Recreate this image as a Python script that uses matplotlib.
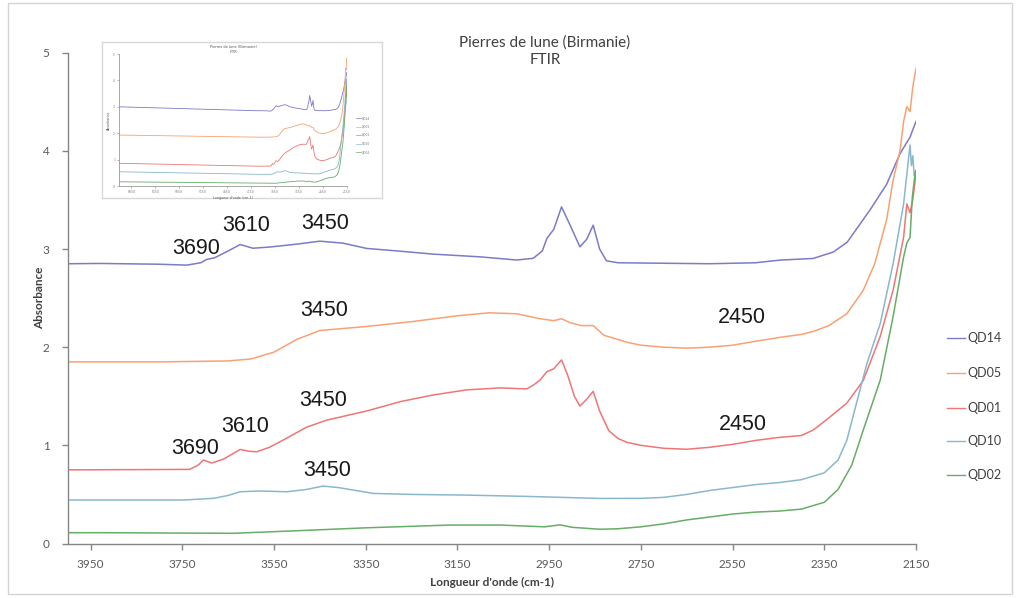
import matplotlib
matplotlib.use("Agg")
import matplotlib.pyplot as plt
from matplotlib.patches import Rectangle

W, H = 1017, 598

# ---- spectra (wavenumber in cm-1, absorbance) ----
qd14_wn = [4000, 3930, 3800, 3740, 3710, 3697, 3680, 3650, 3624, 3596, 3560, 3500, 3450, 3400,
           3348, 3280, 3203, 3100, 3021, 2985, 2965, 2955, 2940, 2923, 2905, 2883, 2868, 2854,
           2840, 2825, 2800, 2700, 2600, 2500, 2447, 2374, 2330, 2300, 2250, 2214, 2185, 2163, 2150]
qd14_abs = [2.85, 2.853, 2.845, 2.836, 2.86, 2.894, 2.91, 2.98, 3.046, 3.008, 3.02, 3.05, 3.08, 3.06,
            3.006, 2.98, 2.948, 2.92, 2.888, 2.905, 2.98, 3.108, 3.2, 3.429, 3.25, 3.022, 3.1, 3.243,
            3.0, 2.88, 2.86, 2.855, 2.85, 2.86, 2.887, 2.904, 2.97, 3.07, 3.40, 3.66, 3.97, 4.14, 4.30]

qd05_wn = [4000, 3800, 3650, 3600, 3550, 3500, 3450, 3400, 3350, 3250, 3150, 3080, 3020, 2970,
           2940, 2923, 2905, 2880, 2854, 2830, 2780, 2750, 2700, 2650, 2600, 2550, 2500, 2447,
           2400, 2374, 2340, 2301, 2265, 2240, 2214, 2200, 2185, 2177, 2170, 2163, 2157, 2150]
qd05_abs = [1.85, 1.85, 1.86, 1.88, 1.95, 2.08, 2.17, 2.19, 2.21, 2.26, 2.32, 2.35, 2.34, 2.29,
            2.27, 2.29, 2.25, 2.22, 2.22, 2.12, 2.05, 2.02, 2.0, 1.99, 2.0, 2.02, 2.06, 2.10,
            2.13, 2.16, 2.22, 2.34, 2.58, 2.85, 3.3, 3.7, 4.0, 4.3, 4.45, 4.40, 4.65, 4.84]

qd01_wn = [4000, 3734, 3715, 3704, 3686, 3660, 3639, 3624, 3605, 3588, 3560, 3530, 3479, 3435,
           3348, 3275, 3203, 3130, 3057, 2999, 2984, 2970, 2955, 2940, 2923, 2910, 2895, 2883,
           2868, 2854, 2840, 2820, 2800, 2780, 2750, 2700, 2650, 2600, 2550, 2500, 2450, 2400,
           2374, 2340, 2301, 2265, 2228, 2200, 2177, 2170, 2163, 2157, 2150]
qd01_abs = [0.75, 0.755, 0.80, 0.85, 0.82, 0.86, 0.917, 0.958, 0.94, 0.934, 0.98, 1.054, 1.185, 1.257,
            1.35, 1.445, 1.513, 1.565, 1.585, 1.575, 1.615, 1.665, 1.75, 1.78, 1.87, 1.72, 1.50, 1.40,
            1.47, 1.55, 1.35, 1.15, 1.07, 1.03, 1.00, 0.97, 0.96, 0.98, 1.01, 1.05, 1.08, 1.10,
            1.156, 1.28, 1.43, 1.66, 2.11, 2.58, 3.12, 3.46, 3.37, 3.5, 3.77]

qd10_wn = [4000, 3930, 3748, 3682, 3650, 3624, 3580, 3522, 3480, 3443, 3410, 3378, 3333, 3250,
           3130, 3000, 2839, 2750, 2700, 2650, 2600, 2550, 2500, 2450, 2400, 2350, 2320, 2301,
           2257, 2228, 2200, 2177, 2163, 2160, 2157, 2154, 2150]
qd10_abs = [0.443, 0.443, 0.443, 0.46, 0.49, 0.527, 0.535, 0.527, 0.55, 0.585, 0.57, 0.545, 0.51, 0.50,
            0.493, 0.48, 0.459, 0.46, 0.47, 0.50, 0.54, 0.57, 0.60, 0.62, 0.65, 0.72, 0.85, 1.05,
            1.835, 2.24, 2.85, 3.46, 4.06, 3.85, 3.95, 3.75, 3.8]

qd02_wn = [4000, 3930, 3639, 3500, 3348, 3166, 3057, 2960, 2926, 2900, 2839, 2800, 2750, 2700,
           2650, 2600, 2550, 2500, 2450, 2400, 2350, 2320, 2290, 2265, 2228, 2200, 2177, 2170,
           2163, 2158, 2152, 2150]
qd02_abs = [0.11, 0.11, 0.104, 0.13, 0.16, 0.188, 0.188, 0.17, 0.19, 0.165, 0.145, 0.15, 0.17, 0.20,
            0.24, 0.27, 0.30, 0.32, 0.33, 0.35, 0.42, 0.55, 0.80, 1.156, 1.665, 2.31, 2.92, 3.06,
            3.12, 3.53, 3.77, 3.8]

series_names = ["QD14", "QD05", "QD01", "QD10", "QD02"]
series_colors = ["#7b7bc6", "#f7a274", "#ee7676", "#88b8cc", "#66ad66"]

# band labels: (text, wavenumber, absorbance)
band_labels = [
    ("3690", 3719, 3.006), ("3610", 3610, 3.243), ("3450", 3439, 3.26),
    ("3450", 3440, 2.378), ("2450", 2530, 2.30),
    ("3690", 3722, 0.963), ("3610", 3613, 1.19), ("3450", 3443, 1.454), ("2450", 2528, 1.21),
    ("3450", 3435, 0.741),
]

# far-range levels for the overview panel (6900 -> 4000 cm-1)
far_wn = [6900, 4000]
far_levels = {"QD14": [3.0, 2.85], "QD05": [1.93, 1.85], "QD01": [0.86, 0.75],
              "QD10": [0.54, 0.443], "QD02": [0.16, 0.11]}

x_ticks = list(range(2150, 4000, 200))
y_ticks = [0, 1, 2, 3, 4, 5]

data = [(qd14_wn, qd14_abs), (qd05_wn, qd05_abs), (qd01_wn, qd01_abs),
        (qd10_wn, qd10_abs), (qd02_wn, qd02_abs)]


def fx(px):
    return px / W


def fy(py):
    return 1 - py / H


fig = plt.figure(figsize=(W / 100, H / 100), dpi=100)
fig.patch.set_facecolor("white")

# chart frame
fig.add_artist(Rectangle((fx(8), fy(594)), fx(1004), 591 / H, transform=fig.transFigure,
                         fill=False, edgecolor="#d4d4d4", linewidth=1.0))

tick_font = "Lato"
gray = "#595959"
axis_gray = "#868686"

ax = fig.add_axes([fx(67.7), fy(543.5), fx(916 - 67.7), (543.5 - 52.7) / H])
for (wn, ab), name, col in zip(data, series_names, series_colors):
    ax.plot(wn, ab, color=col, linewidth=1.1, label=name)

ax.set_xlim(4000, 2150)
ax.set_ylim(0, 5)
ax.set_xticks(x_ticks)
ax.set_yticks(y_ticks)
for s in ["top", "right"]:
    ax.spines[s].set_visible(False)
for s in ["left", "bottom"]:
    ax.spines[s].set_color(axis_gray)
    ax.spines[s].set_linewidth(1.0)
ax.tick_params(axis="both", direction="out", length=4, width=1, color=axis_gray,
               labelcolor=gray, labelsize=8.5)
ax.tick_params(axis="x", pad=7)
ax.tick_params(axis="y", pad=9)
for lab in ax.get_xticklabels() + ax.get_yticklabels():
    lab.set_fontfamily(tick_font)

for txt, wn, ab in band_labels:
    ax.text(wn, ab, txt, ha="center", va="center", fontsize=15.5,
            family="Liberation Sans", color="#1a1a1a")

# titles
fig.text(fx(545), fy(43), "Pierres de lune (Birmanie)", ha="center", va="center",
         fontsize=11, family=tick_font, color="#404040")
fig.text(fx(545), fy(60), "FTIR", ha="center", va="center",
         fontsize=11, family=tick_font, color="#404040")
fig.text(fx(492), fy(582), "Longueur d'onde (cm-1)", ha="center", va="center",
         fontsize=8.5, family=tick_font, fontweight="bold", color="#404040")
fig.text(fx(40), fy(298), "Absorbance", ha="center", va="center", rotation=90,
         fontsize=8.5, family=tick_font, fontweight="bold", color="#404040")

# legend
leg_y = [338, 373, 408, 441, 475]
for name, col, py in zip(series_names, series_colors, leg_y):
    fig.add_artist(plt.Line2D([fx(947), fx(965)], [fy(py), fy(py)], color=col,
                              linewidth=1.0, transform=fig.transFigure))
    fig.text(fx(967), fy(py), name, ha="left", va="center", fontsize=9,
             family=tick_font, color="#404040")

# overview panel
frame = fig.add_axes([fx(102), fy(198), fx(382 - 102), (198 - 42) / H])
frame.set_xticks([])
frame.set_yticks([])
for s in frame.spines.values():
    s.set_color("#d8d8d8")
    s.set_linewidth(1.0)

inset = fig.add_axes([fx(119.3), fy(186), fx(346.7 - 119.3), (186 - 54) / H])
for (wn, ab), name, col in zip(data, series_names, series_colors):
    iw = far_wn + list(wn)
    ia = far_levels[name] + list(ab)
    inset.plot(iw, ia, color=col, linewidth=0.6)
inset.set_xlim(6900, 2150)
inset.set_ylim(0, 5)
inset.set_xticks(list(range(2150, 6900, 500)))
inset.set_yticks(y_ticks)
for s in ["top", "right"]:
    inset.spines[s].set_visible(False)
for s in ["left", "bottom"]:
    inset.spines[s].set_color("#9a9a9a")
    inset.spines[s].set_linewidth(0.6)
inset.tick_params(axis="both", direction="out", length=1.5, width=0.5, color="#9a9a9a",
                  labelcolor="#777777", labelsize=2.2, pad=1.5)
inset.set_xlabel("Longueur d'onde (cm-1)", fontsize=2.4, labelpad=1.5, color="#555555")
inset.set_ylabel("Absorbance", fontsize=2.4, labelpad=1.5, color="#555555")
inset.set_title("Pierres de lune (Birmanie)\nFTIR", fontsize=2.6, pad=-6, color="#555555")
for name, col, k in zip(series_names, series_colors, range(5)):
    py = 118 + k * 8.5
    fig.add_artist(plt.Line2D([fx(356), fx(361)], [fy(py), fy(py)], color=col,
                              linewidth=0.5, transform=fig.transFigure))
    fig.text(fx(362), fy(py), name, ha="left", va="center", fontsize=2.2, color="#777777")

fig.savefig("out.png", dpi=100, facecolor="white")
